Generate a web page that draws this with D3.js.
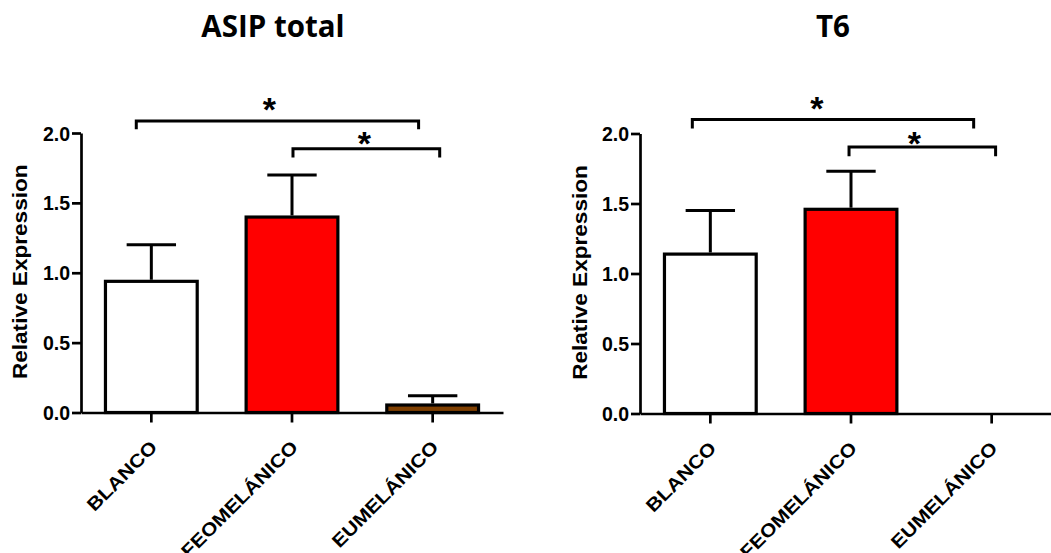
<!DOCTYPE html>
<html>
<head>
<meta charset="utf-8">
<script src="https://cdn.jsdelivr.net/npm/d3@7"></script>
<style>
  body { margin: 0; background: #fff; }
  svg { display: block; }
  .tick text { font-family: "Liberation Sans", Arial, sans-serif; font-weight: bold; }
</style>
</head>
<body>
<svg id="chart" width="1051" height="553"></svg>
<script>
// Values
var categories = ['BLANCO', 'FEOMELÁNICO', 'EUMELÁNICO'];
var barColors = ['#ffffff', '#ff0000', '#7f3f00'];
var yTicks = [0, 0.5, 1.0, 1.5, 2.0];

var asipMeans = [0.95, 1.41, 0.065];
var asipErrors = [0.25, 0.29, 0.055];

var t6Means = [1.15, 1.47, 0];
var t6Errors = [0.30, 0.26, 0];

// significance brackets: from/to category, bar level, leg drop, star level (data units)
// dx / starDx are small offsets as a fraction of the band step
var asipBrackets = [
  { from: 0, to: 2, level: 2.086, drop: 0.06, star: 2.222, dx: [-0.107, -0.10], starDx: -0.057 },
  { from: 1, to: 2, level: 1.888, drop: 0.064, star: 1.984, dx: [0.007, 0.05], starDx: -0.014 }
];
var t6Brackets = [
  { from: 0, to: 2, level: 2.10, drop: 0.064, star: 2.238, dx: [-0.128, -0.128], starDx: -0.114 },
  { from: 1, to: 2, level: 1.904, drop: 0.066, star: 1.988, dx: [-0.014, 0.028], starDx: -0.057 }
];

var svg = d3.select('#chart');

var drawPanel = function drawPanel(opts) {
  var g = svg.append('g');

  var x = d3.scaleBand()
    .domain(categories)
    .range([opts.x0, opts.x1])
    .paddingInner(0.325)
    .paddingOuter(0.1625);

  var y = d3.scaleLinear()
    .domain([0, 2])
    .range([opts.yBottom, opts.yTop]);

  var center = function(i) { return x(categories[i]) + x.bandwidth() / 2; };

  // title
  g.append('text')
    .attr('x', opts.titleX)
    .attr('y', 37)
    .attr('text-anchor', 'middle')
    .style('font-family', '"Open Sans", sans-serif')
    .style('font-weight', 'bold')
    .style('font-size', '29.5px')
    .text(opts.title);

  // y label
  g.append('text')
    .attr('transform', 'translate(' + (opts.labelX + 7) + ',' + ((opts.yTop + opts.yBottom) / 2 - 1) + ') rotate(-90) scale(1.13,1)')
    .attr('text-anchor', 'middle')
    .style('font-family', '"Liberation Sans", Arial, sans-serif')
    .style('font-weight', 'bold')
    .style('font-size', '20px')
    .text('Relative Expression');

  // bars
  var bars = categories.map(function(c, i) {
    return { name: c, mean: opts.means[i], err: opts.errors[i], color: barColors[i], i: i };
  }).filter(function(d) { return d.mean > 0; });

  // error bars first so the bar outline covers the stem base
  var err = g.selectAll('.err').data(bars).enter().append('g').attr('class', 'err');
  err.append('line')
    .attr('x1', function(d) { return center(d.i); })
    .attr('x2', function(d) { return center(d.i); })
    .attr('y1', function(d) { return y(d.mean); })
    .attr('y2', function(d) { return y(d.mean + d.err); })
    .attr('stroke', '#000')
    .attr('stroke-width', 3);
  err.append('line')
    .attr('x1', function(d) { return center(d.i) - x.bandwidth() * 0.26; })
    .attr('x2', function(d) { return center(d.i) + x.bandwidth() * 0.26; })
    .attr('y1', function(d) { return y(d.mean + d.err); })
    .attr('y2', function(d) { return y(d.mean + d.err); })
    .attr('stroke', '#000')
    .attr('stroke-width', 3);

  g.selectAll('.bar').data(bars).enter().append('rect')
    .attr('class', 'bar')
    .attr('x', function(d) { return x(d.name) + 1.6; })
    .attr('width', x.bandwidth() - 3.2)
    .attr('y', function(d) { return y(d.mean) + 1.6; })
    .attr('height', function(d) { return y(0) - y(d.mean) - 1.6; })
    .attr('fill', function(d) { return d.color; })
    .attr('stroke', '#000')
    .attr('stroke-width', 3.2);

  // axes
  var yAxis = g.append('g')
    .attr('transform', 'translate(' + opts.x0 + ',0)')
    .call(d3.axisLeft(y).tickValues(yTicks).tickFormat(d3.format('.1f')).tickSize(9).tickSizeOuter(0).tickPadding(2));
  yAxis.selectAll('text').style('font-size', '19.5px').attr('dy', '0.36em');

  var xAxis = g.append('g')
    .attr('transform', 'translate(0,' + opts.yBottom + ')')
    .call(d3.axisBottom(x).tickSize(10).tickSizeOuter(0));
  xAxis.selectAll('text')
    .attr('y', 0)
    .attr('dy', null)
    .attr('transform', 'translate(7,36) rotate(-45) scale(1.14,1)')
    .style('text-anchor', 'end')
    .style('font-size', '18.5px');

  g.selectAll('.domain, .tick line')
    .attr('stroke', '#000')
    .attr('stroke-width', 2.7);

  // significance brackets
  var step = x.step();
  var br = g.selectAll('.bracket').data(opts.brackets).enter().append('g').attr('class', 'bracket');
  br.append('path')
    .attr('d', function(d) {
      var xa = center(d.from) + d.dx[0] * step;
      var xb = center(d.to) + d.dx[1] * step;
      return 'M' + xa + ',' + y(d.level - d.drop) + 'V' + y(d.level) + 'H' + xb + 'V' + y(d.level - d.drop);
    })
    .attr('fill', 'none')
    .attr('stroke', '#000')
    .attr('stroke-width', 3);
  br.append('text')
    .attr('x', function(d) {
      return (center(d.from) + d.dx[0] * step + center(d.to) + d.dx[1] * step) / 2 + d.starDx * step;
    })
    .attr('y', function(d) { return y(d.star); })
    .attr('dy', '0.57em')
    .attr('text-anchor', 'middle')
    .style('font-family', '"Liberation Sans", Arial, sans-serif')
    .style('font-weight', 'bold')
    .style('font-size', '34px')
    .text('*');
};

drawPanel({
  title: 'ASIP total', titleX: 273, labelX: 20,
  x0: 81, x1: 503, yTop: 133, yBottom: 412.5,
  means: asipMeans, errors: asipErrors, brackets: asipBrackets
});

drawPanel({
  title: 'T6', titleX: 833, labelX: 580,
  x0: 640, x1: 1062, yTop: 133.5, yBottom: 413.5,
  means: t6Means, errors: t6Errors, brackets: t6Brackets
});
</script>
</body>
</html>
